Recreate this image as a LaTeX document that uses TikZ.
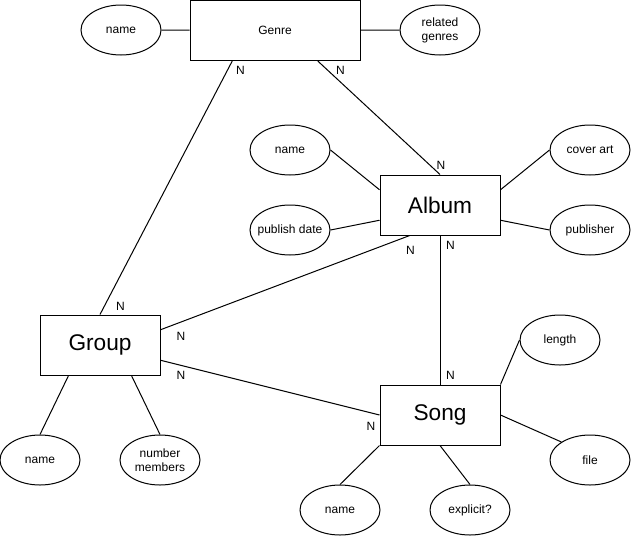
\documentclass[tikz,border=0pt]{standalone}
\usepackage{fontspec}
\setmainfont{Liberation Sans}
\usetikzlibrary{positioning, shapes.geometric, calc}

\begin{document}
\begin{tikzpicture}[
    x=0.75pt, y=-0.75pt, line width=0.75pt,
    entity/.style={rectangle, draw, minimum width=90pt, minimum height=45pt, inner sep=0pt, font=\fontsize{17}{20}\selectfont},
    attr/.style={ellipse, draw, minimum width=60pt, minimum height=37.5pt, inner sep=0pt, align=center, font=\fontsize{9}{10.5}\selectfont},
    card/.style={inner sep=0pt, font=\fontsize{9}{10.5}\selectfont},
  ]
  \useasboundingbox (0,0) rectangle (631,536);

  % Genre and its attributes
  \node[entity, minimum width=127.5pt, font=\fontsize{9}{10.5}\selectfont] (genre) at (275,30.5) {Genre};
  \node[attr] (gname) at (121,30) {name};
  \node[attr] (related) at (440,30) {related\\genres};

  % Album and its attributes
  \node[entity] (alb) at (440,205) {Album};
  \node[attr] (aname) at (290,150) {name};
  \node[attr, inner xsep=-8pt] (pdate) at (290,230) {publish date};
  \node[attr] (cover) at (590,150) {cover art};
  \node[attr] (publisher) at (590,230) {publisher};

  % Group and its attributes
  \node[entity] (grp) at (100,345) {Group};
  \node[attr] (grname) at (40,460) {name};
  \node[attr] (members) at (160,460) {number\\members};

  % Song and its attributes
  \node[entity] (song) at (440,415) {Song};
  \node[attr] (length) at (560,340) {length};
  \node[attr] (file) at (590,460) {file};
  \node[attr] (sname) at (340,510) {name};
  \node[attr] (explicit) at (470,510) {explicit?};

  % attribute links
  \draw (gname) -- (genre);
  \draw (genre) -- (related);
  \draw (aname.east) -- ($(alb.north west)!0.25!(alb.south west)$);
  \draw (pdate.east) -- ($(alb.north west)!0.75!(alb.south west)$);
  \draw (cover.west) -- ($(alb.north east)!0.25!(alb.south east)$);
  \draw (publisher.west) -- ($(alb.north east)!0.75!(alb.south east)$);
  \draw ($(grp.south west)!0.24!(grp.south east)$) -- (grname.north);
  \draw ($(grp.south west)!0.76!(grp.south east)$) -- (members.north);
  \draw (song.north east) -- (length.west);
  \draw (song.east) -- (file.north west);
  \draw (song.south west) -- (sname.north);
  \draw (song.south) -- (explicit.north);

  % relationships
  \draw ($(genre.south west)!0.25!(genre.south east)$) -- (grp.north);
  \draw ($(genre.south west)!0.75!(genre.south east)$) -- (alb.north);
  \draw ($(alb.south west)!0.25!(alb.south east)$) -- ($(grp.north east)!0.25!(grp.south east)$);
  \draw (alb) -- (song);
  \draw ($(grp.north east)!0.75!(grp.south east)$) -- (song.west);

  % cardinalities
  \node[card] (ngg) at (240.5,70.5) {N};
  \node[card] (ngr) at (120.5,306) {N};
  \node[card] (nga) at (340.5,70.5) {N};
  \node[card] (nag) at (441,165.5) {N};
  \node[card] (nar) at (410.5,250.5) {N};
  \node[card] (nra) at (181,336) {N};
  \node[card] (nas) at (450.5,245.5) {N};
  \node[card] (nsa) at (450.5,375) {N};
  \node[card] (nrs) at (181,375) {N};
  \node[card] (nsr) at (371,426) {N};
\end{tikzpicture}
\end{document}
